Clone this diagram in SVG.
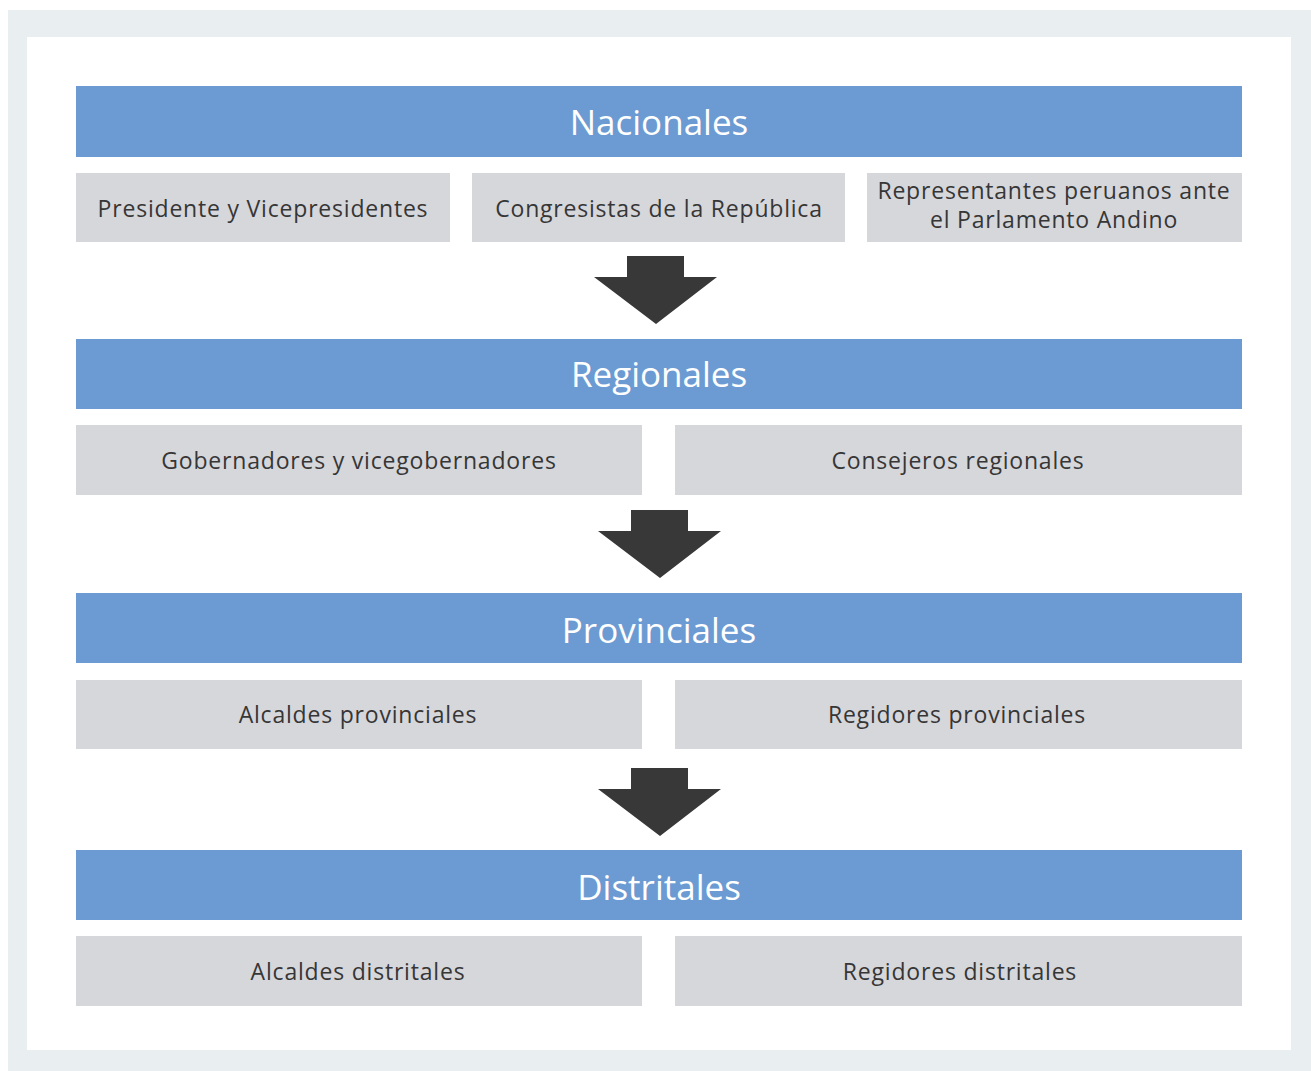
<svg xmlns="http://www.w3.org/2000/svg" width="1311" height="1071" viewBox="0 0 1311 1071">
<style>
.hdr{fill:#6b9bd2}
.box{fill:#d6d7db}
.ht{font-family:"Open Sans","Noto Sans",sans-serif;font-size:35px;fill:#ffffff;text-anchor:middle}
.bt{font-family:"Open Sans","Noto Sans",sans-serif;font-size:23px;letter-spacing:0.8px;fill:#363636;text-anchor:middle}
.arr{fill:#383838}
</style>
<rect x="0" y="0" width="1311" height="1071" fill="#ffffff"/>
<rect x="8" y="10" width="1303" height="1061" fill="#e9eef1"/>
<rect x="27" y="37" width="1264" height="1013" fill="#ffffff"/>
<g id="nacionales">
<rect class="hdr" x="76" y="86" width="1166" height="71"/>
<text class="ht" x="659" y="135">Nacionales</text>
</g>
<g id="presidente">
<rect class="box" x="76" y="173" width="374" height="69"/>
<text class="bt" x="263" y="217">Presidente y Vicepresidentes</text>
</g>
<g id="congresistas">
<rect class="box" x="472" y="173" width="373" height="69"/>
<text class="bt" x="659" y="217">Congresistas de la República</text>
</g>
<g id="representantes">
<rect class="box" x="867" y="173" width="375" height="69"/>
<text class="bt" x="1054" y="199">Representantes peruanos ante</text>
<text class="bt" x="1054" y="228">el Parlamento Andino</text>
</g>
<g id="regionales">
<rect class="hdr" x="76" y="339" width="1166" height="70"/>
<text class="ht" x="659" y="387">Regionales</text>
</g>
<g id="gobernadores">
<rect class="box" x="76" y="425" width="566" height="70"/>
<text class="bt" x="359" y="469">Gobernadores y vicegobernadores</text>
</g>
<g id="consejeros">
<rect class="box" x="675" y="425" width="567" height="70"/>
<text class="bt" x="958" y="469">Consejeros regionales</text>
</g>
<g id="provinciales">
<rect class="hdr" x="76" y="593" width="1166" height="70"/>
<text class="ht" x="659" y="643">Provinciales</text>
</g>
<g id="alcaldes-prov">
<rect class="box" x="76" y="680" width="566" height="69"/>
<text class="bt" x="358" y="723">Alcaldes provinciales</text>
</g>
<g id="regidores-prov">
<rect class="box" x="675" y="680" width="567" height="69"/>
<text class="bt" x="957" y="723">Regidores provinciales</text>
</g>
<g id="distritales">
<rect class="hdr" x="76" y="850" width="1166" height="70"/>
<text class="ht" x="659" y="900">Distritales</text>
</g>
<g id="alcaldes-dist">
<rect class="box" x="76" y="936" width="566" height="70"/>
<text class="bt" x="358" y="980">Alcaldes distritales</text>
</g>
<g id="regidores-dist">
<rect class="box" x="675" y="936" width="567" height="70"/>
<text class="bt" x="960" y="980">Regidores distritales</text>
</g>
<g id="connectors">
<polygon class="arr" points="627,256 684,256 684,277 717,277 656,324 594,277 627,277"/>
<polygon class="arr" points="631,510 688,510 688,531 721,531 660,578 598,531 631,531"/>
<polygon class="arr" points="631,768 688,768 688,789 721,789 660,836 598,789 631,789"/>
</g>
</svg>
